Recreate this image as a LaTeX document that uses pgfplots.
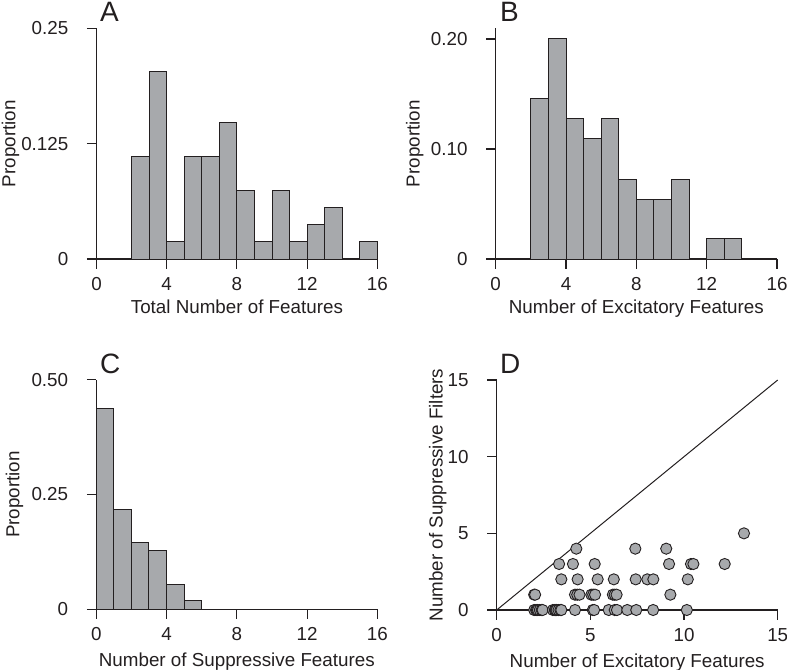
\documentclass[border=0pt]{standalone}
\usepackage{fontspec}
\setmainfont{Liberation Sans}
\usepackage{pgfplots}
\pgfplotsset{compat=1.18}
\definecolor{barfill}{RGB}{167,169,172}
\definecolor{ink}{RGB}{35,31,32}
\tikzset{letter/.style={anchor=base west, inner sep=0pt, font=\fontsize{28bp}{30bp}\selectfont, text=ink}}
\pgfplotsset{
  every y tick label/.append style={anchor=east, inner sep=0pt, xshift=-18.5bp},
  every x tick label/.append style={anchor=north, inner sep=0pt, yshift=-8.5bp},
  panel/.style={
    scale only axis, clip=false,
    axis x line*=bottom, axis y line*=left,
    axis line style={ink, line width=1.1bp, -},
    tick align=outside, major tick length=9.5bp,
    every tick/.style={ink, line width=1.1bp},
    tick label style={font=\fontsize{18.8bp}{22bp}\selectfont, text=ink},
    every axis x label/.style={at={([yshift=-#1]axis description cs:0.5,0)}, anchor=base, inner sep=0pt, font=\fontsize{18.8bp}{22bp}\selectfont, text=ink},
    every axis y label/.style={rotate=90, anchor=base, inner sep=0pt, font=\fontsize{18.8bp}{22bp}\selectfont, text=ink},
  },
  bars/.style={ybar interval, fill=barfill, draw=ink, line width=1bp},
}
\begin{document}
\begin{tikzpicture}
\useasboundingbox (0,0) rectangle (787bp,-670bp);
% Panel A
\begin{axis}[panel=54.3bp, at={(96.5bp,-259bp)}, anchor=south west,
  width=280.8bp, height=230.7bp, xmin=0, xmax=16, ymin=0, ymax=0.25,
  xtick={0,4,8,12,16}, xticklabels={0,4,8,12,16},
  ytick={0,0.125,0.25}, yticklabels={0,0.125,0.25},
  xlabel={Total Number of Features}, ylabel={Proportion},
  every axis y label/.append style={at={([xshift=-81bp]axis description cs:0,0.5)}}]
\addplot[bars] coordinates {(2,0.1111) (3,0.2037) (4,0.0185) (5,0.1111) (6,0.1111) (7,0.1481) (8,0.0741) (9,0.0185) (10,0.0741) (11,0.0185) (12,0.0370) (13,0.0556) (14,0) (15,0.0185) (16,0)};
\node[letter] at ([xshift=3.5bp,yshift=6.6bp]rel axis cs:0,1) {A};
\end{axis}
% Panel B
\begin{axis}[panel=54.3bp, at={(495.7bp,-259bp)}, anchor=south west,
  width=281.3bp, height=230.7bp, xmin=0, xmax=16, ymin=0, ymax=0.2097,
  xtick={0,4,8,12,16}, xticklabels={0,4,8,12,16},
  ytick={0,0.1,0.2}, yticklabels={0,0.10,0.20},
  xlabel={Number of Excitatory Features}, ylabel={Proportion},
  every axis y label/.append style={at={([xshift=-76bp]axis description cs:0,0.5)}}]
\addplot[bars] coordinates {(2,0.1455) (3,0.2000) (4,0.1273) (5,0.1091) (6,0.1273) (7,0.0727) (8,0.0545) (9,0.0545) (10,0.0727) (11,0) (12,0.0182) (13,0.0182) (14,0)};
\node[letter] at ([xshift=4.3bp,yshift=7.3bp]rel axis cs:0,1) {B};
\end{axis}
% Panel C
\begin{axis}[panel=57.5bp, at={(96.3bp,-609.3bp)}, anchor=south west,
  width=281bp, height=229.7bp, xmin=0, xmax=16, ymin=0, ymax=0.5,
  xtick={0,4,8,12,16}, xticklabels={0,4,8,12,16},
  ytick={0,0.25,0.5}, yticklabels={0,0.25,0.50},
  xlabel={Number of Suppressive Features}, ylabel={Proportion},
  every axis y label/.append style={at={([xshift=-77bp]axis description cs:0,0.5)}}]
\addplot[bars] coordinates {(0,0.4364) (1,0.2182) (2,0.1455) (3,0.1273) (4,0.0545) (5,0.0182) (6,0)};
\node[letter] at ([xshift=3.7bp,yshift=6.6bp]rel axis cs:0,1) {C};
\end{axis}
% Panel D
\begin{axis}[panel=57bp, at={(496.7bp,-610bp)}, anchor=south west,
  width=281bp, height=230bp, xmin=0, xmax=15, ymin=0, ymax=15,
  xtick={0,5,10,15}, xticklabels={0,5,10,15},
  ytick={0,5,10,15}, yticklabels={0,5,10,15},
  xlabel={Number of Excitatory Features}, ylabel={Number of Suppressive Filters},
  every axis y label/.append style={at={([xshift=-54bp]axis description cs:0,0.5)}}]
\addplot[ink, line width=1bp] coordinates {(0,0) (15,15)};
\addplot[only marks, mark=*, mark size=5.6bp, mark options={fill=barfill, draw=ink, line width=0.9bp}] coordinates {
(13.2,5)
(4.25,4) (7.4,4) (9.05,4)
(3.33,3) (4.07,3) (5.23,3) (9.2,3) (10.37,3) (10.5,3) (12.17,3)
(3.45,2) (4.32,2) (5.39,2) (6.25,2) (7.42,2) (8.04,2) (8.36,2) (10.2,2)
(2.0,1) (2.05,1) (4.18,1) (4.3,1) (4.42,1) (5.05,1) (5.15,1) (5.25,1) (6.2,1) (6.3,1) (6.4,1) (9.27,1)
(2.0,0) (2.1,0) (2.15,0) (2.2,0) (2.3,0) (2.4,0) (2.45,0) (3.0,0) (3.1,0) (3.15,0) (3.2,0) (3.3,0) (3.4,0) (3.45,0)
(4.18,0) (5.13,0) (5.2,0) (5.98,0) (6.3,0) (6.42,0) (6.97,0) (7.45,0) (8.35,0) (10.15,0)};
\node[letter] at ([xshift=3.3bp,yshift=6.6bp]rel axis cs:0,1) {D};
\end{axis}
\end{tikzpicture}
\end{document}
